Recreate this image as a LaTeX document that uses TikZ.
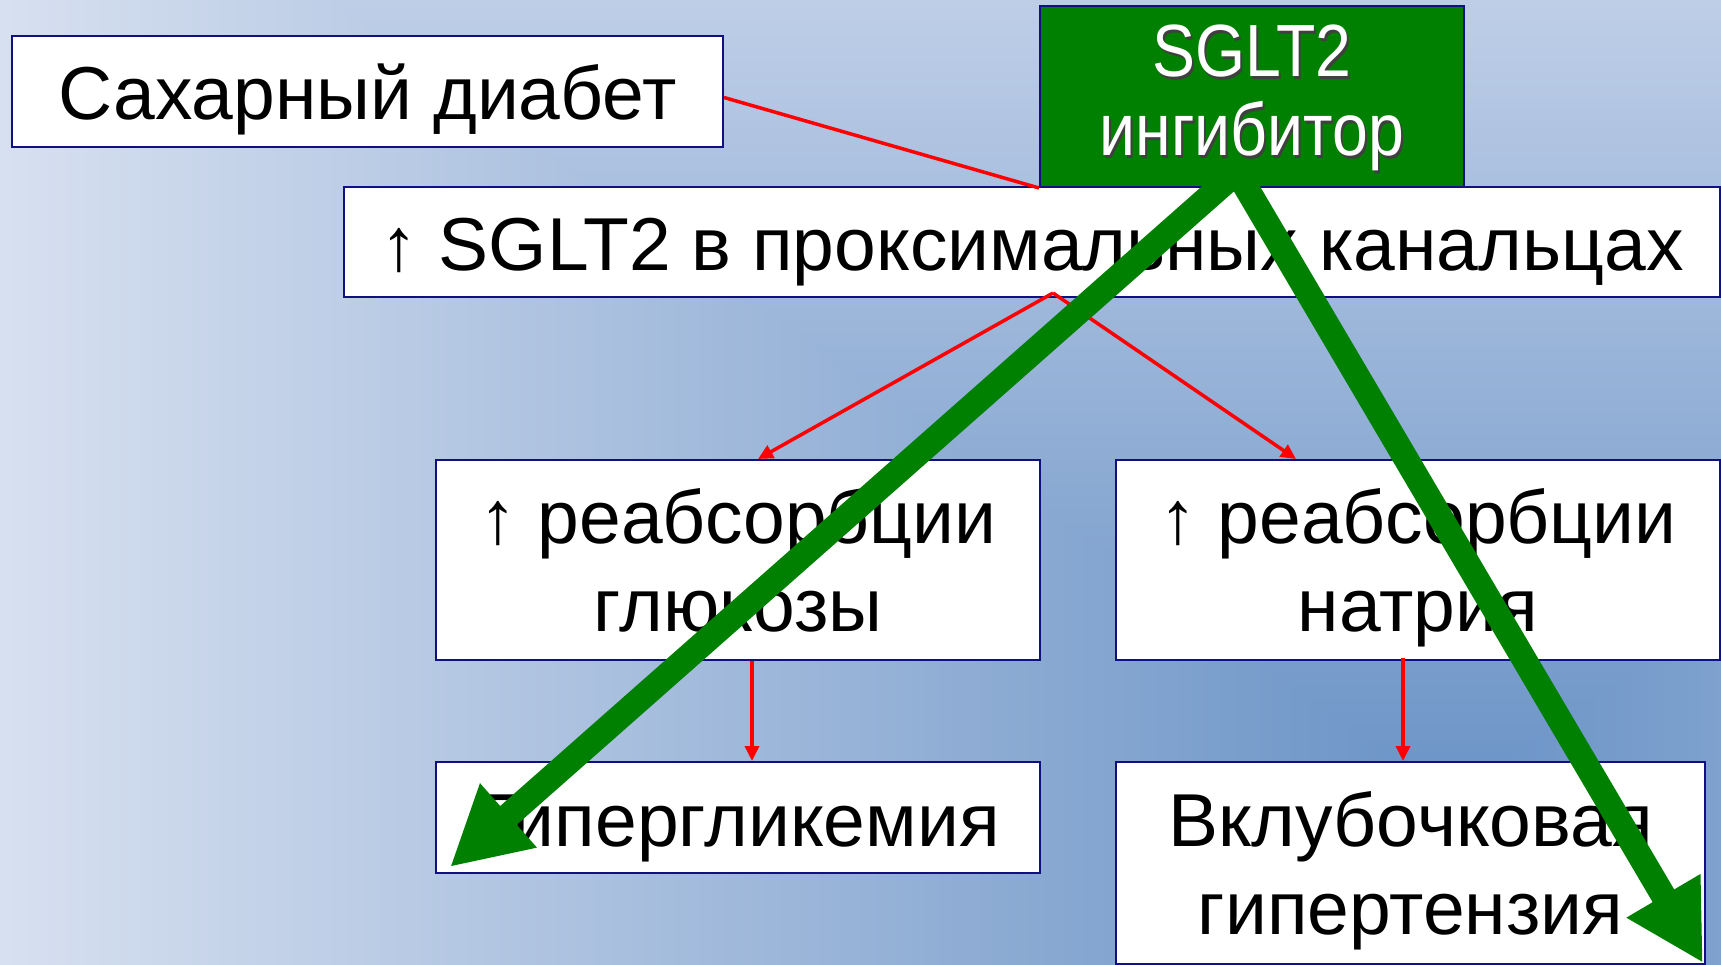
\documentclass[tikz,border=0pt]{standalone}
\usepackage{fontspec}
\setmainfont{Liberation Sans}
\newfontfamily\drugfont[FakeStretch=0.87]{Liberation Sans}
\usetikzlibrary{arrows.meta,positioning,calc}
\definecolor{navy}{RGB}{16,16,128}
\definecolor{drugGreen}{RGB}{0,128,0}
\definecolor{bgCore}{RGB}{106,147,198}
\definecolor{bgLeft}{RGB}{215,224,240}
\definecolor{bgTop}{RGB}{190,206,231}
\definecolor{bgRight}{RGB}{126,161,206}
\definecolor{bgBottom}{RGB}{123,159,205}
\tikzset{
	txtbox/.style={draw=navy, line width=2pt, fill=white, align=center, inner sep=0pt, font=\fontsize{75}{88}\selectfont},
	oneline/.style={text height=71pt, text depth=14pt},
	twoline/.style={text height=157pt, text depth=14pt},
	drugbox/.style={draw=navy, line width=2pt, fill=drugGreen, inner sep=0pt},
	drugtext/.style={align=center, inner sep=0pt, text height=133pt, text depth=14pt, font=\drugfont\fontsize{74}{79}\selectfont},
	redline/.style={red, line width=3.5pt},
	redarrow/.style={-{Triangle[length=15pt,width=14pt]}, red, line width=3.5pt},
	bigarrow/.style={-{Triangle[length=78pt,width=80pt]}, drugGreen, line width=25pt}
}

\begin{document}
\begin{tikzpicture}[x=1pt, y=-1pt]
		\useasboundingbox (0,0) rectangle (1721,965);
		% background: rectangular gradient round a dark core
		\coordinate (core) at (1450, 800);
		\shade[left color=bgLeft, right color=bgCore] (0,0) rectangle (1451,965);
		\shade[left color=bgCore, right color=bgRight] (1449,0) rectangle (1721,965);
		\begin{scope}
			\clip (core) -- ++(-2800,-2000) -- ++(5600,0) -- cycle;
			\shade[top color=bgTop, bottom color=bgCore] (0,0) rectangle (1721,800);
		\end{scope}
		\begin{scope}
			\clip (core) -- ++(-2800,2000) -- ++(5600,0) -- cycle;
			\shade[top color=bgCore, bottom color=bgBottom] (0,800) rectangle (1721,965);
		\end{scope}
		
		% boxes
		\node [txtbox, oneline, anchor=north west, minimum width=711pt, minimum height=111pt] (diab) at (11, 35) {Сахарный диабет};
		\node [drugbox, anchor=north west, minimum width=424pt, minimum height=181pt] (sglt) at (1039, 5) {};
		\node [drugtext, text=black!75] at ([shift={(2,3)}]sglt.center) {SGLT2\\ингибитор};
		\node [drugtext, text=white] (sgltText) at (sglt.center) {SGLT2\\ингибитор};
		\node [txtbox, oneline, anchor=north west, minimum width=1376pt, minimum height=110pt] (prox) at (343, 186) {↑ SGLT2 в проксимальных канальцах};
		\node [txtbox, twoline, anchor=north west, minimum width=604pt, minimum height=200pt] (reabGlu) at (435, 459) {↑ реабсорбции\\глюкозы};
		\node [txtbox, twoline, anchor=north west, minimum width=604pt, minimum height=200pt] (reabNa) at (1115, 459) {↑ реабсорбции\\натрия};
		\node [txtbox, oneline, anchor=north west, minimum width=604pt, minimum height=111pt] (hyperGlu) at (435, 761) {Гипергликемия};
		\node [txtbox, twoline, anchor=north west, minimum width=589pt, minimum height=202pt] (hyperTen) at (1115, 761) {Вклубочковая\\гипертензия};
		
		\coordinate (fork) at (1053, 293);
		\coordinate (src) at (1237, 172);
		\coordinate (gluTip) at (450, 867);
		\coordinate (tenTip) at (1703, 963);
		
		% red links
		\draw [redline] ([yshift=-6pt]diab.east) to (sglt.south west);
		\draw [redarrow] (fork) to ([xshift=20pt]reabGlu.north);
		\draw [redarrow] (fork) to ([xshift=-122pt]reabNa.north);
		\draw [redarrow] ([xshift=14pt]reabGlu.south) to ([xshift=14pt]hyperGlu.north);
		\draw [redarrow] ([xshift=-15pt, yshift=3pt]reabNa.south) to ([xshift=-15pt]reabNa.south |- hyperTen.north);
		
		% green arrows
		\draw [bigarrow] (src) to (gluTip);
		\draw [bigarrow] (src) to (tenTip);
		
	\end{tikzpicture}
\end{document}
